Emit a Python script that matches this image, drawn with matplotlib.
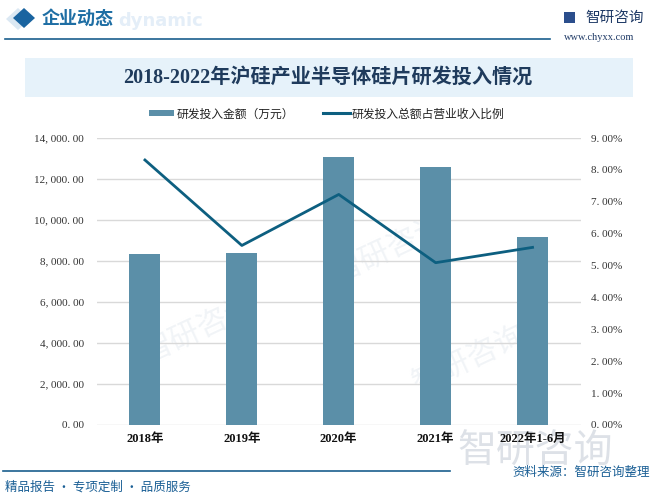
import matplotlib.pyplot as plt
from matplotlib.patches import Rectangle, Polygon
from matplotlib.lines import Line2D

plt.rcParams['font.family'] = ['Noto Sans CJK SC', 'DejaVu Sans']

categories = ['2018年', '2019年', '2020年', '2021年', '2022年1-6月']
rd_amount = [8350, 8390, 13090, 12600, 9170]       # 研发投入金额（万元）
rd_ratio = [8.31, 5.63, 7.23, 5.09, 5.57]          # 研发投入总额占营业收入比例 (%)
left_ticks = [0, 2000, 4000, 6000, 8000, 10000, 12000, 14000]
right_ticks = [0, 1, 2, 3, 4, 5, 6, 7, 8, 9]

W, H = 655, 497
bar_color = '#5b8fa8'
line_color = '#0d5f80'
blue = '#1a64a0'


def px(x, y):
    return x / W, 1 - y / H


fig = plt.figure(figsize=(W / 100, H / 100), dpi=100)
fig.patch.set_facecolor('white')

# faint watermarks (behind the axes)
for (x, y) in [(200, 330), (390, 250), (470, 360)]:
    fig.text(*px(x, y), '智研咨询', fontsize=22, color='#f1f4f7', rotation=25,
             ha='center', va='center', zorder=-1)
fig.text(*px(535, 452), '智研咨询', fontsize=28, color='#dde1e7', ha='center',
         va='center', zorder=-1)

# header
fig.patches.append(Polygon([px(18, 8), px(30, 19), px(18, 30), px(6, 19)], closed=True,
                           transform=fig.transFigure, facecolor='#dbe8f3', edgecolor='none'))
fig.patches.append(Polygon([px(24, 8), px(35, 18), px(24, 28), px(13, 18)], closed=True,
                           transform=fig.transFigure, facecolor=blue, edgecolor='none'))
fig.text(*px(118, 21), 'dynamic', fontsize=13, color='#e4eef8', fontweight='bold',
         family='DejaVu Sans', va='center')
fig.text(*px(42, 18), '企业动态', fontsize=13, color='#1e6ea4', va='center',
         fontweight='bold')
fig.lines.append(Line2D([5 / W, 550 / W], [1 - 39 / H] * 2, transform=fig.transFigure,
                        color='#1a5f8e', lw=1.2))
fig.patches.append(Rectangle(px(564, 23), 11 / W, 11 / H, transform=fig.transFigure,
                             facecolor='#2b4e8c', edgecolor='none'))
fig.text(*px(585, 18), '智研咨询', fontsize=10.5, color='#1f3a66', va='center')
fig.text(*px(599, 37), 'www.chyxx.com', fontsize=7.5, color='#1f3a66', va='center',
         ha='center', family='Liberation Serif')

# title band
fig.patches.append(Rectangle(px(25, 97), 608 / W, 39 / H, transform=fig.transFigure,
                             facecolor='#e6f2fa', edgecolor='none'))
fig.text(*px(328, 78), '2018-2022年沪硅产业半导体硅片研发投入情况', fontsize=14.5,
         color='#1f3b5c', ha='center', va='center', fontweight='bold',
         family=['Liberation Serif', 'Noto Sans CJK SC'])

# legend
fig.patches.append(Rectangle(px(149, 116), 25 / W, 6 / H, transform=fig.transFigure,
                             facecolor=bar_color, edgecolor='none'))
fig.text(*px(177, 114), '研发投入金额（万元）', fontsize=8.5, color='#222222', va='center')
fig.lines.append(Line2D([323 / W, 350 / W], [1 - 113 / H] * 2, transform=fig.transFigure,
                        color=line_color, lw=2.2))
fig.text(*px(352, 114), '研发投入总额占营业收入比例', fontsize=8.5, color='#222222', va='center')

# chart
ax = fig.add_axes([96.5 / W, 1 - 425 / H, 484.5 / W, 287 / H])
ax.set_facecolor('none')
x = range(len(categories))
ax.bar(x, rd_amount, width=0.32, color=bar_color, zorder=2)
ax.set_xlim(-0.5, len(categories) - 0.5)
ax.set_ylim(0, 14000)
ax.set_yticks(left_ticks)
ax.set_yticklabels(['{:,.2f}'.format(v).replace(',', ', ').replace('.', '. ')
                    for v in left_ticks], family='Liberation Serif', fontsize=8,
                   color='#333333')
ax.grid(axis='y', color='#d9d9d9', lw=1, zorder=0)
ax.set_xticks(list(x))
ax.set_xticklabels(categories, fontweight='bold', fontsize=9,
                   family=['Liberation Serif', 'Noto Sans CJK SC'], color='#111111')
ax.tick_params(axis='y', length=0, pad=9)
ax.tick_params(axis='x', length=0, pad=6)
for s in ax.spines.values():
    s.set_visible(False)

ax2 = ax.twinx()
ax2.plot(list(x), rd_ratio, color=line_color, lw=2, zorder=3)
ax2.set_ylim(0, 9)
ax2.set_yticks(right_ticks)
ax2.set_yticklabels(['{:.2f}%'.format(v).replace('.', '. ') for v in right_ticks],
                    family='Liberation Serif', fontsize=8, color='#333333')
ax2.tick_params(axis='y', length=0, pad=7)
for s in ax2.spines.values():
    s.set_visible(False)

# footer
fig.lines.append(Line2D([3 / W, 450 / W], [1 - 471 / H] * 2, transform=fig.transFigure,
                        color='#1a5f8e', lw=1.2))
fig.text(*px(5, 487), '精品报告 · 专项定制 · 品质服务', fontsize=9, color='#1a5f95',
         va='center')
fig.text(*px(650, 472), '资料来源：智研咨询整理', fontsize=9, color='#1a5f95',
         va='center', ha='right')

fig.savefig('out.png', dpi=100)
